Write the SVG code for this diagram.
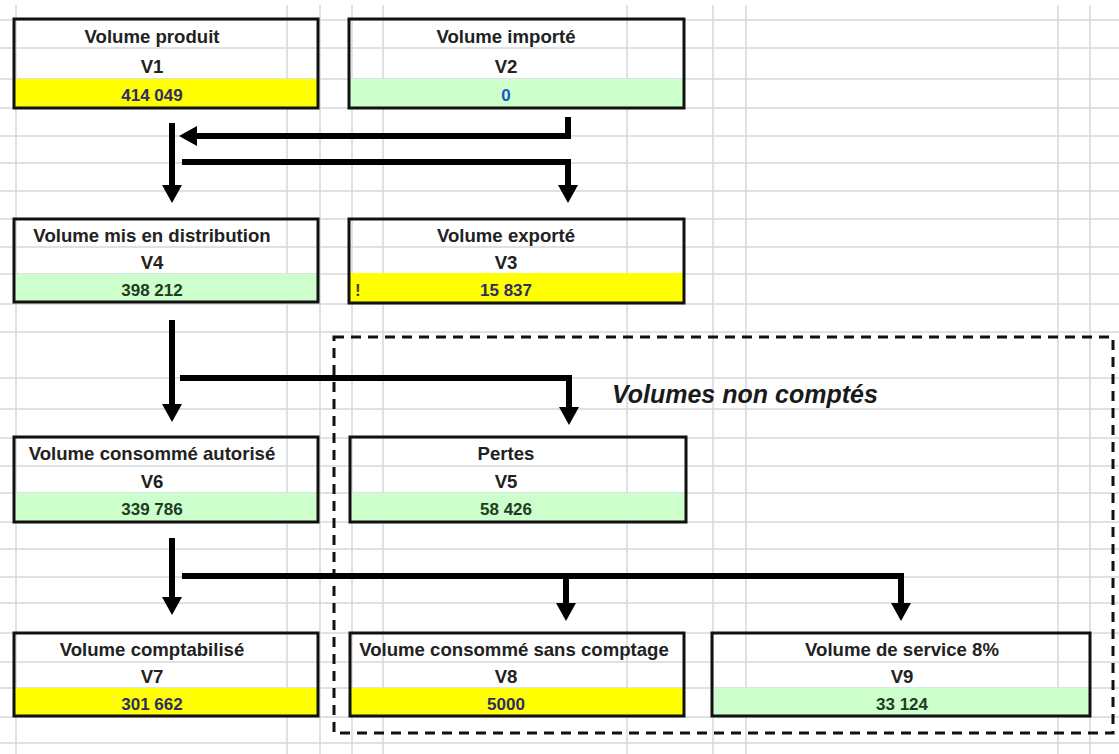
<svg xmlns="http://www.w3.org/2000/svg" width="1119" height="754" viewBox="0 0 1119 754">
<style>
.grid line{stroke:#d5d9dc;stroke-width:1.5}
.box{fill:none;stroke:#111;stroke-width:3}
.yel{fill:#ffff00}
.grn{fill:#ccffcc}
.t{font-family:"Liberation Sans",Arial,sans-serif;font-weight:bold;font-size:18.6px;fill:#222;text-anchor:middle}
.v{font-family:"Liberation Sans",Arial,sans-serif;font-weight:bold;font-size:17px;text-anchor:middle}
.vy{fill:#2e2e66}
.vg{fill:#1e3d1e}
.vb{fill:#1f55c8}
.conn path{fill:none;stroke:#000;stroke-width:6;stroke-linejoin:miter}
.frame{fill:none;stroke:#111;stroke-width:3;stroke-dasharray:10 7}
.lbl{font-family:"Liberation Sans",Arial,sans-serif;font-weight:bold;font-style:italic;font-size:25px;fill:#1a1a1a}
</style>
<defs>
<marker id="ah" markerUnits="userSpaceOnUse" markerWidth="18" markerHeight="20" viewBox="0 0 18 20" refX="0" refY="10" orient="auto">
<path d="M0,0 L18,10 L0,20 z" fill="#000"/>
</marker>
</defs>
<rect width="1119" height="754" fill="#fff"/>
<g class="grid">
<line x1="16" y1="5" x2="16" y2="754"/>
<line x1="287" y1="5" x2="287" y2="754"/>
<line x1="320" y1="5" x2="320" y2="754"/>
<line x1="352" y1="5" x2="352" y2="754"/>
<line x1="383" y1="5" x2="383" y2="754"/>
<line x1="627" y1="5" x2="627" y2="754"/>
<line x1="713" y1="5" x2="713" y2="754"/>
<line x1="746" y1="5" x2="746" y2="754"/>
<line x1="1058" y1="5" x2="1058" y2="754"/>
<line x1="1090" y1="5" x2="1090" y2="754"/>
<line x1="0" y1="20" x2="1119" y2="20"/>
<line x1="0" y1="48" x2="1119" y2="48"/>
<line x1="0" y1="79" x2="1119" y2="79"/>
<line x1="0" y1="108" x2="1119" y2="108"/>
<line x1="0" y1="136" x2="1119" y2="136"/>
<line x1="0" y1="163" x2="1119" y2="163"/>
<line x1="0" y1="191" x2="1119" y2="191"/>
<line x1="0" y1="219" x2="1119" y2="219"/>
<line x1="0" y1="247" x2="1119" y2="247"/>
<line x1="0" y1="274" x2="1119" y2="274"/>
<line x1="0" y1="304" x2="1119" y2="304"/>
<line x1="0" y1="332" x2="1119" y2="332"/>
<line x1="0" y1="378" x2="1119" y2="378"/>
<line x1="0" y1="409" x2="1119" y2="409"/>
<line x1="0" y1="438" x2="1119" y2="438"/>
<line x1="0" y1="466" x2="1119" y2="466"/>
<line x1="0" y1="493" x2="1119" y2="493"/>
<line x1="0" y1="522" x2="1119" y2="522"/>
<line x1="0" y1="549" x2="1119" y2="549"/>
<line x1="0" y1="577" x2="1119" y2="577"/>
<line x1="0" y1="603" x2="1119" y2="603"/>
<line x1="0" y1="633" x2="1119" y2="633"/>
<line x1="0" y1="662" x2="1119" y2="662"/>
<line x1="0" y1="688" x2="1119" y2="688"/>
<line x1="0" y1="717" x2="1119" y2="717"/>
<line x1="0" y1="743" x2="1119" y2="743"/>
</g>
<rect class="frame" x="334" y="337" width="779" height="396"/>
<text class="lbl" x="612" y="403">Volumes non comptés</text>
<g id="v1">
<rect class="yel" x="14" y="79" width="304" height="29"/>
<rect class="box" x="14" y="19" width="304" height="89"/>
<text class="t" x="152" y="43">Volume produit</text>
<text class="t" x="152" y="73">V1</text>
<text class="v vy" x="152" y="101">414 049</text>
</g>
<g id="v2">
<rect class="grn" x="349" y="79" width="335" height="29"/>
<rect class="box" x="349" y="19" width="335" height="89"/>
<text class="t" x="506" y="43">Volume importé</text>
<text class="t" x="506" y="73">V2</text>
<text class="v vb" x="506" y="101">0</text>
</g>
<g id="v4">
<rect class="grn" x="14" y="274" width="304" height="28"/>
<rect class="box" x="14" y="219" width="304" height="83"/>
<text class="t" x="152" y="242">Volume mis en distribution</text>
<text class="t" x="152" y="269">V4</text>
<text class="v vg" x="152" y="296">398 212</text>
</g>
<g id="v3">
<rect class="yel" x="349" y="273" width="335" height="30"/>
<rect class="box" x="349" y="219" width="335" height="84"/>
<text class="t" x="506" y="242">Volume exporté</text>
<text class="t" x="506" y="269">V3</text>
<text class="v" x="355" y="296" style="fill:#44441a;text-anchor:start">!</text>
<text class="v vy" x="506" y="296">15 837</text>
</g>
<g id="v6">
<rect class="grn" x="14" y="493" width="304" height="29"/>
<rect class="box" x="14" y="437" width="304" height="85"/>
<text class="t" x="152" y="460">Volume consommé autorisé</text>
<text class="t" x="152" y="488">V6</text>
<text class="v vg" x="152" y="515">339 786</text>
</g>
<g id="v5">
<rect class="grn" x="350" y="493" width="336" height="29"/>
<rect class="box" x="350" y="437" width="336" height="85"/>
<text class="t" x="506" y="460">Pertes</text>
<text class="t" x="506" y="488">V5</text>
<text class="v vg" x="506" y="515">58 426</text>
</g>
<g id="v7">
<rect class="yel" x="14" y="688" width="304" height="28"/>
<rect class="box" x="14" y="633" width="304" height="83"/>
<text class="t" x="152" y="656">Volume comptabilisé</text>
<text class="t" x="152" y="683">V7</text>
<text class="v vy" x="152" y="710">301 662</text>
</g>
<g id="v8">
<rect class="yel" x="350" y="688" width="334" height="28"/>
<rect class="box" x="350" y="633" width="334" height="83"/>
<text class="t" x="514" y="656">Volume consommé sans comptage</text>
<text class="t" x="506" y="683">V8</text>
<text class="v vy" x="506" y="710">5000</text>
</g>
<g id="v9">
<rect class="grn" x="712" y="688" width="378" height="28"/>
<rect class="box" x="712" y="633" width="378" height="83"/>
<text class="t" x="902" y="656">Volume de service 8%</text>
<text class="t" x="902" y="683">V9</text>
<text class="v vg" x="902" y="710">33 124</text>
</g>
<g class="conn">
<path d="M172,123 V185" marker-end="url(#ah)"/>
<path d="M568,117 V136 H197" marker-end="url(#ah)"/>
<path d="M182,162 H568 V185" marker-end="url(#ah)"/>
<path d="M172,320 V404" marker-end="url(#ah)"/>
<path d="M180,378 H569 V407" marker-end="url(#ah)"/>
<path d="M172,538 V597" marker-end="url(#ah)"/>
<path d="M182,576 H901 V603" marker-end="url(#ah)"/>
<path d="M566,576 V603" marker-end="url(#ah)"/>
</g>
</svg>
